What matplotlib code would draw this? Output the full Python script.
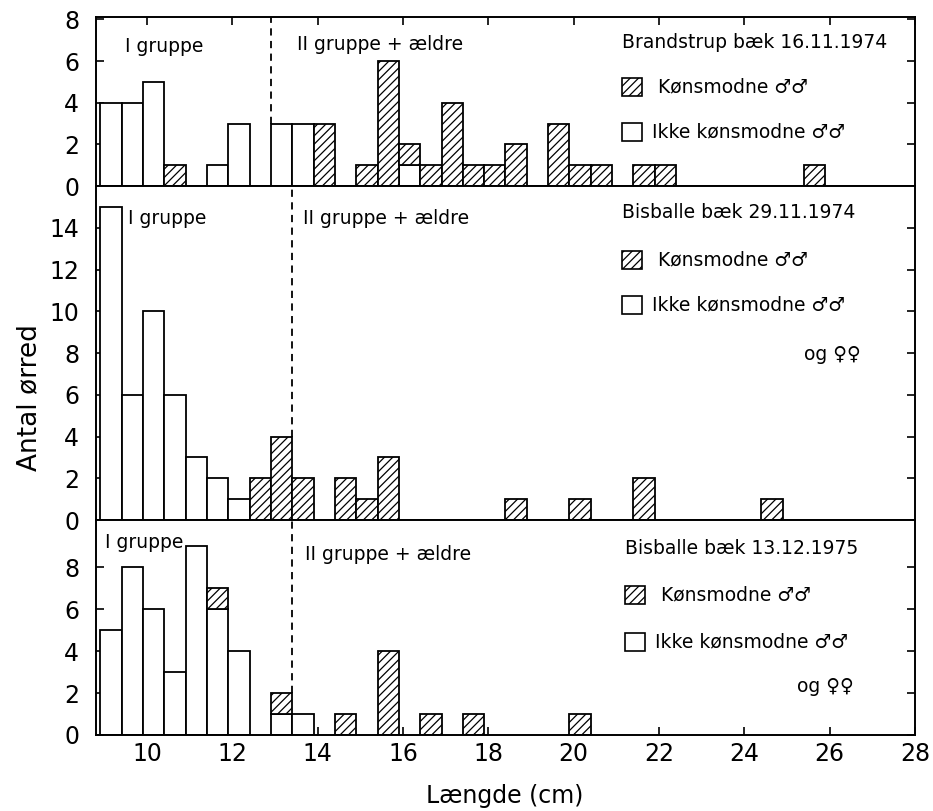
import numpy as np
import matplotlib
matplotlib.use("Agg")
import matplotlib.pyplot as plt
from matplotlib.patches import Rectangle

plt.rcParams['font.family'] = ['DejaVu Sans']
plt.rcParams['hatch.linewidth'] = 0.9

# ---- data (bin left edge in cm, number of trout) ----
bin_width = 0.5

# Brandstrup baek 16.11.1974
brand_open_x = [8.9, 9.4, 9.9, 11.4, 11.9, 12.9, 13.4, 15.9]
brand_open_n = [4, 4, 5, 1, 3, 3, 3, 1]
brand_mature_x = [10.4, 13.9, 14.9, 15.4, 15.9, 16.4, 16.9, 17.4, 17.9, 18.4,
                  19.4, 19.9, 20.4, 21.4, 21.9, 25.4]
brand_mature_n = [1, 3, 1, 6, 1, 1, 4, 1, 1, 2, 3, 1, 1, 1, 1, 1]

# Bisballe baek 29.11.1974
bis74_open_x = [8.9, 9.4, 9.9, 10.4, 10.9, 11.4, 11.9]
bis74_open_n = [15, 6, 10, 6, 3, 2, 1]
bis74_mature_x = [12.4, 12.9, 13.4, 14.4, 14.9, 15.4, 18.4, 19.9, 21.4, 24.4]
bis74_mature_n = [2, 4, 2, 2, 1, 3, 1, 1, 2, 1]

# Bisballe baek 13.12.1975
bis75_open_x = [8.9, 9.4, 9.9, 10.4, 10.9, 11.4, 11.9, 12.9, 13.4]
bis75_open_n = [5, 8, 6, 3, 9, 6, 4, 1, 1]
bis75_mature_x = [11.4, 12.9, 14.4, 15.4, 16.4, 17.4, 19.9]
bis75_mature_n = [1, 1, 1, 4, 1, 1, 1]

titles = ["Brandstrup bæk 16.11.1974", "Bisballe bæk 29.11.1974", "Bisballe bæk 13.12.1975"]
group_split = [12.9, 13.4, 13.4]      # dashed line between the age groups
split_from = [3, 4, 2]                # dashed line starts at this count
y_max = [8.12, 16.0, 10.24]
y_ticks = [[0, 2, 4, 6, 8], list(range(0, 15, 2)), [0, 2, 4, 6, 8]]
x_ticks = [10, 12, 14, 16, 18, 20, 22, 24, 26, 28]

panels = [
    (brand_open_x, brand_open_n, brand_mature_x, brand_mature_n),
    (bis74_open_x, bis74_open_n, bis74_mature_x, bis74_mature_n),
    (bis75_open_x, bis75_open_n, bis75_mature_x, bis75_mature_n),
]

W, H = 933, 811
fig = plt.figure(figsize=(W / 100, H / 100), dpi=100)


def fx(px):
    return px / W


def fy(py):
    return 1 - py / H


# axes rectangles (pixel top / bottom of each panel)
left_px, right_px = 96, 915
rows_px = [(17, 186), (186, 520), (520, 735)]

axes = []
for i, (top, bot) in enumerate(rows_px):
    ax = fig.add_axes([fx(left_px), fy(bot), fx(right_px - left_px), (bot - top) / H])
    open_x, open_n, mat_x, mat_n = panels[i]
    ax.bar(open_x, open_n, width=bin_width, align='edge', color='white',
           edgecolor='black', linewidth=1.3, zorder=2)
    base = dict(zip(open_x, open_n))
    bottoms = [base.get(x, 0) for x in mat_x]
    ax.bar(mat_x, mat_n, width=bin_width, bottom=bottoms, align='edge', color='white',
           edgecolor='black', hatch='////', linewidth=1.3, zorder=2)
    ax.vlines(group_split[i], split_from[i], y_max[i], colors='black',
              linestyles=(0, (4, 3)), linewidth=1.3, zorder=3)
    ax.set_xlim(8.8, 28)
    ax.set_ylim(0, y_max[i])
    ax.set_yticks(y_ticks[i])
    ax.set_xticks(x_ticks)
    ax.tick_params(axis='y', direction='in', left=True, right=True, length=6, width=1.2,
                   labelsize=17, pad=12)
    ax.tick_params(axis='x', direction='in', bottom=(i == 2), top=(i == 0), length=6,
                   width=1.2, labelbottom=(i == 2), labelsize=17, pad=5)
    for s in ax.spines.values():
        s.set_linewidth(1.4)
    axes.append(ax)

# ---- text annotations ----
fs = 13.5
group_text = [((125, 47), (297, 45)), ((128, 219), (303, 219)), ((105, 543), (305, 555))]
for (g1, g2) in group_text:
    fig.text(fx(g1[0]), fy(g1[1]), "I gruppe", fontsize=fs, va='center', ha='left')
    fig.text(fx(g2[0]), fy(g2[1]), "II gruppe + ældre", fontsize=fs, va='center', ha='left')

legend_rows = [
    (622, 42, 87, 132, None),
    (622, 213, 260, 305, 355),
    (625, 549, 595, 642, 687),
]
og_x = [None, 804, 797]
for i, (lx, ty, hy, oy, ogy) in enumerate(legend_rows):
    fig.text(fx(lx), fy(ty), titles[i], fontsize=fs, va='center', ha='left')
    fig.add_artist(Rectangle((fx(lx), fy(hy + 9)), fx(20), 18 / H, transform=fig.transFigure,
                             facecolor='white', edgecolor='black', hatch='////', linewidth=1.2))
    fig.add_artist(Rectangle((fx(lx), fy(oy + 9)), fx(20), 18 / H, transform=fig.transFigure,
                             facecolor='white', edgecolor='black', linewidth=1.2))
    fig.text(fx(lx + 36), fy(hy), "Kønsmodne \u2642\u2642", fontsize=fs, va='center', ha='left')
    fig.text(fx(lx + 30), fy(oy), "Ikke kønsmodne \u2642\u2642", fontsize=fs, va='center', ha='left')
    if ogy is not None:
        fig.text(fx(og_x[i]), fy(ogy), "og \u2640\u2640", fontsize=fs, va='center', ha='left')

fig.text(fx(505), fy(796), "Længde (cm)", fontsize=17, ha='center', va='center')
fig.text(fx(29), fy(398), "Antal ørred", fontsize=19, ha='center', va='center', rotation=90)

fig.savefig("out.png", dpi=100)
